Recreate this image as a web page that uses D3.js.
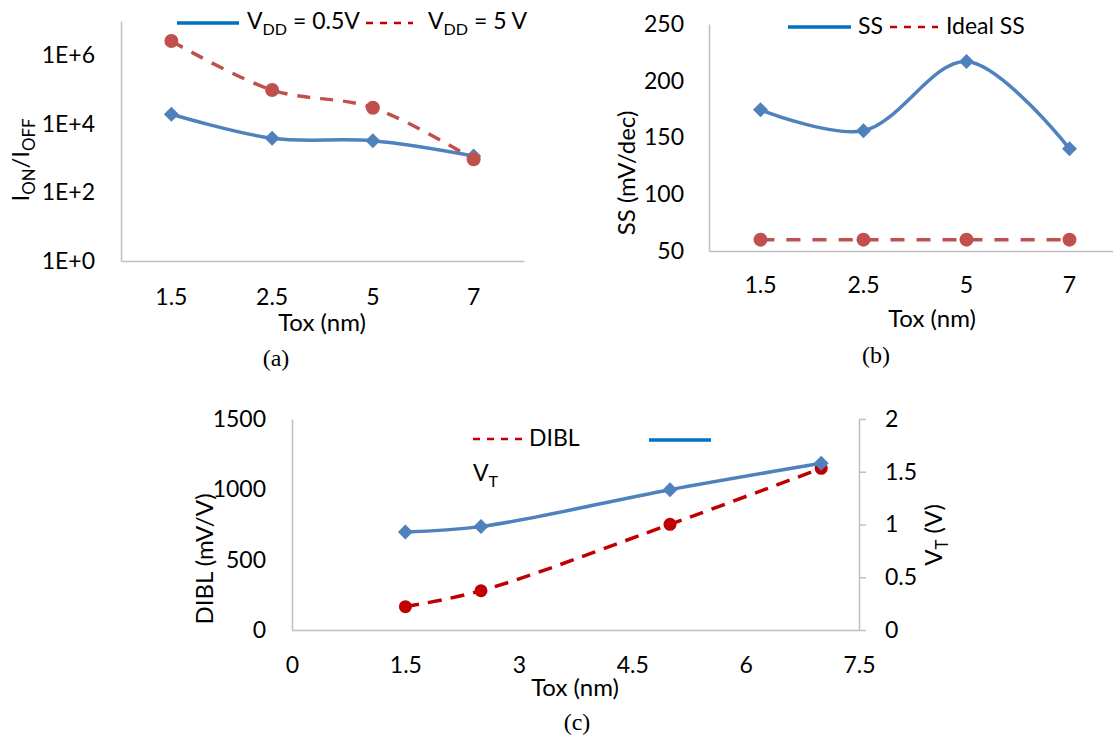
<!DOCTYPE html>
<html>
<head>
<meta charset="utf-8">
<script src="https://cdn.jsdelivr.net/npm/d3@7"></script>
<style>
  body { margin: 0; background: #fff; }
  text { font-family: Lato, "Open Sans", sans-serif; fill: #000; }
  .cap { font-family: "Liberation Serif", "Times New Roman", serif; }
</style>
</head>
<body>
<script>
// DATA
const toxCats = ["1.5", "2.5", "5", "7"];
const toxNum = [1.5, 2.5, 5, 7];

// (a) Ion/Ioff
const ratioVdd05 = [1.9e4, 3.8e3, 3.2e3, 1.15e3];
const ratioVdd5 = [2.6e6, 9.7e4, 2.95e4, 9.3e2];
const ratioTicks = [1, 1e2, 1e4, 1e6];
const ratioTickLabels = ["1E+0", "1E+2", "1E+4", "1E+6"];

// (b) subthreshold swing
const ssValues = [174.5, 156, 217, 140];
const idealSS = [60, 60, 60, 60];
const ssTicks = [50, 100, 150, 200, 250];

// (c) DIBL and VT
const diblValues = [166, 279, 751, 1149];
const vtValues = [0.93, 0.98, 1.33, 1.58];
const diblTicks = [0, 500, 1000, 1500];
const vtTicks = [0, 0.5, 1, 1.5, 2];
const toxTicksC = [0, 1.5, 3, 4.5, 6, 7.5];

// COLOURS
const blueData = "#4F81BD", redData = "#C0504D", redDark = "#C00000", blueLeg = "#0070C0";
const axisCol = "#BFBFBF";

const tickSize = 23, titleSize = 24, legSize = 23, capSize = 24;

const svg = d3.select("body").append("svg")
    .attr("width", 1113)
    .attr("height", 737);

const diamond = r => `M0,${-r}L${r},0L0,${r}L${-r},0Z`;

function styleAxis(g) {
    g.select(".domain").attr("stroke", axisCol).attr("stroke-width", 1.5);
    g.selectAll(".tick line").attr("stroke", axisCol).attr("stroke-width", 1.5);
    g.selectAll("text").attr("font-size", tickSize + "px").attr("fill", "#000");
    g.attr("font-family", null).attr("font-size", null);
}

// text with subscripts: parts = [[string, isSub], ...]
function subText(parent, x, y, parts, size) {
    const t = parent.append("text").attr("x", x).attr("y", y).attr("font-size", size + "px");
    let shifted = false;
    parts.forEach(p => {
        const ts = t.append("tspan").text(p[0]);
        if (p[1] && !shifted) { ts.attr("font-size", (size * 0.7) + "px").attr("dy", size * 0.25); shifted = true; }
        else if (p[1]) { ts.attr("font-size", (size * 0.7) + "px"); }
        else if (!p[1] && shifted) { ts.attr("dy", -size * 0.25); shifted = false; }
    });
    return t;
}

//////////////////// PANEL (a)
const xA = d3.scaleBand().domain(toxCats).range([121, 524]);
const yA = d3.scaleLog().domain([1, 1e7]).range([261, 21]);

svg.append("g")
    .attr("transform", "translate(0,261)")
    .call(d3.axisBottom(xA).tickSize(0).tickPadding(28))
    .call(styleAxis);

svg.append("g")
    .attr("transform", "translate(121,0)")
    .call(d3.axisLeft(yA).tickValues(ratioTicks).tickFormat((d, i) => ratioTickLabels[i]).tickSize(0).tickPadding(26))
    .call(styleAxis);

const cxA = i => xA(toxCats[i]) + xA.bandwidth() / 2;
const lineA = d3.line()
    .x((d, i) => cxA(i))
    .y(d => yA(d))
    .curve(d3.curveCatmullRom.alpha(0.5));

svg.append("path").datum(ratioVdd05)
    .attr("fill", "none").attr("stroke", blueData).attr("stroke-width", 3.5)
    .attr("d", lineA);
svg.selectAll("path.dA").data(ratioVdd05).enter().append("path")
    .attr("class", "dA")
    .attr("d", diamond(7.5))
    .attr("transform", (d, i) => `translate(${cxA(i)},${yA(d)})`)
    .attr("fill", blueData);

svg.append("path").datum(ratioVdd5)
    .attr("fill", "none").attr("stroke", redData).attr("stroke-width", 3.5)
    .attr("stroke-dasharray", "13,10")
    .attr("d", lineA);
svg.selectAll("circle.cA").data(ratioVdd5).enter().append("circle")
    .attr("class", "cA")
    .attr("cx", (d, i) => cxA(i)).attr("cy", d => yA(d)).attr("r", 7)
    .attr("fill", redData);

// legend (a)
svg.append("line").attr("x1", 177).attr("x2", 239).attr("y1", 23).attr("y2", 23)
    .attr("stroke", blueLeg).attr("stroke-width", 3.5);
subText(svg, 247, 29, [["V", false], ["DD", true], [" = 0.5V", false]], legSize);
svg.append("line").attr("x1", 366).attr("x2", 413).attr("y1", 23).attr("y2", 23)
    .attr("stroke", redDark).attr("stroke-width", 2.5).attr("stroke-dasharray", "7,7");
subText(svg, 428, 29, [["V", false], ["DD", true], [" = 5 V", false]], legSize);

// titles (a)
const tA = svg.append("g").attr("transform", "translate(29,160) rotate(-90)");
subText(tA, 0, 0, [["I", false], ["ON", true], ["/I", false], ["OFF", true]], titleSize).attr("text-anchor", "middle");
svg.append("text").attr("x", 322).attr("y", 331).attr("text-anchor", "middle").attr("font-size", titleSize + "px").text("Tox (nm)");
svg.append("text").attr("class", "cap").attr("x", 276).attr("y", 366).attr("text-anchor", "middle").attr("font-size", capSize + "px").text("(a)");

//////////////////// PANEL (b)
const xB = d3.scaleBand().domain(toxCats).range([709, 1121]);
const yB = d3.scaleLinear().domain([50, 250]).range([251, 24]);

svg.append("g")
    .attr("transform", "translate(0,251)")
    .call(d3.axisBottom(xB).tickSize(0).tickPadding(26))
    .call(styleAxis);

svg.append("g")
    .attr("transform", "translate(709,0)")
    .call(d3.axisLeft(yB).tickValues(ssTicks).tickFormat(d3.format("d")).tickSize(0).tickPadding(25))
    .call(styleAxis);

const cxB = i => xB(toxCats[i]) + xB.bandwidth() / 2;
const lineB = d3.line()
    .x((d, i) => cxB(i))
    .y(d => yB(d))
    .curve(d3.curveCatmullRom.alpha(0.5));

svg.append("path").datum(ssValues)
    .attr("fill", "none").attr("stroke", blueData).attr("stroke-width", 3.5)
    .attr("d", lineB);
svg.selectAll("path.dB").data(ssValues).enter().append("path")
    .attr("class", "dB")
    .attr("d", diamond(7.5))
    .attr("transform", (d, i) => `translate(${cxB(i)},${yB(d)})`)
    .attr("fill", blueData);

svg.append("path").datum(idealSS)
    .attr("fill", "none").attr("stroke", redData).attr("stroke-width", 3.5)
    .attr("stroke-dasharray", "14,12")
    .attr("d", lineB);
svg.selectAll("circle.cB").data(idealSS).enter().append("circle")
    .attr("class", "cB")
    .attr("cx", (d, i) => cxB(i)).attr("cy", d => yB(d)).attr("r", 7)
    .attr("fill", redData);

// legend (b)
svg.append("line").attr("x1", 788).attr("x2", 851).attr("y1", 27).attr("y2", 27)
    .attr("stroke", blueLeg).attr("stroke-width", 3.5);
svg.append("text").attr("x", 858).attr("y", 34).attr("font-size", legSize + "px").text("SS");
svg.append("line").attr("x1", 890).attr("x2", 938).attr("y1", 27).attr("y2", 27)
    .attr("stroke", redDark).attr("stroke-width", 2.5).attr("stroke-dasharray", "7,7");
svg.append("text").attr("x", 946).attr("y", 34).attr("font-size", legSize + "px").text("Ideal SS");

// titles (b)
svg.append("text").attr("transform", "translate(635,173) rotate(-90)")
    .attr("text-anchor", "middle").attr("font-size", titleSize + "px").text("SS (mV/dec)");
svg.append("text").attr("x", 932).attr("y", 327).attr("text-anchor", "middle").attr("font-size", titleSize + "px").text("Tox (nm)");
svg.append("text").attr("class", "cap").attr("x", 876).attr("y", 363).attr("text-anchor", "middle").attr("font-size", capSize + "px").text("(b)");

//////////////////// PANEL (c)
const xC = d3.scaleLinear().domain([0, 7.5]).range([292, 859]);
const yC = d3.scaleLinear().domain([0, 1500]).range([630, 419]);
const yC2 = d3.scaleLinear().domain([0, 2]).range([630, 419]);

svg.append("g")
    .attr("transform", "translate(0,630)")
    .call(d3.axisBottom(xC).tickValues(toxTicksC).tickFormat(d => String(d)).tickSize(0).tickPadding(27))
    .call(styleAxis);

svg.append("g")
    .attr("transform", "translate(292,0)")
    .call(d3.axisLeft(yC).tickValues(diblTicks).tickFormat(d3.format("d")).tickSize(0).tickPadding(26))
    .call(styleAxis);

svg.append("g")
    .attr("transform", "translate(859,0)")
    .call(d3.axisRight(yC2).tickValues(vtTicks).tickFormat(d => String(d)).tickSize(7).tickSizeOuter(0).tickPadding(19))
    .call(styleAxis);

const lineDibl = d3.line()
    .x((d, i) => xC(toxNum[i]))
    .y(d => yC(d))
    .curve(d3.curveCatmullRom.alpha(0.5));
const lineVt = d3.line()
    .x((d, i) => xC(toxNum[i]))
    .y(d => yC2(d))
    .curve(d3.curveCatmullRom.alpha(0.5));

svg.append("path").datum(diblValues)
    .attr("fill", "none").attr("stroke", redDark).attr("stroke-width", 3.5)
    .attr("stroke-dasharray", "14,9")
    .attr("d", lineDibl);
svg.selectAll("circle.cC").data(diblValues).enter().append("circle")
    .attr("class", "cC")
    .attr("cx", (d, i) => xC(toxNum[i])).attr("cy", d => yC(d)).attr("r", 6.5)
    .attr("fill", redDark);

svg.append("path").datum(vtValues)
    .attr("fill", "none").attr("stroke", blueData).attr("stroke-width", 3.5)
    .attr("d", lineVt);
svg.selectAll("path.dC").data(vtValues).enter().append("path")
    .attr("class", "dC")
    .attr("d", diamond(7.5))
    .attr("transform", (d, i) => `translate(${xC(toxNum[i])},${yC2(d)})`)
    .attr("fill", blueData);

// legend (c)
svg.append("line").attr("x1", 473).attr("x2", 522).attr("y1", 439).attr("y2", 439)
    .attr("stroke", redDark).attr("stroke-width", 2.5).attr("stroke-dasharray", "7,7");
svg.append("text").attr("x", 529).attr("y", 446).attr("font-size", legSize + "px").text("DIBL");
svg.append("line").attr("x1", 649).attr("x2", 711).attr("y1", 440).attr("y2", 440)
    .attr("stroke", blueLeg).attr("stroke-width", 3.5);
subText(svg, 473, 481, [["V", false], ["T", true]], legSize);

// titles (c)
svg.append("text").attr("transform", "translate(213,559) rotate(-90)")
    .attr("text-anchor", "middle").attr("font-size", titleSize + "px").text("DIBL (mV/V)");
const tC = svg.append("g").attr("transform", "translate(942,535) rotate(-90)");
subText(tC, 0, 0, [["V", false], ["T", true], [" (V)", false]], titleSize).attr("text-anchor", "middle");
svg.append("text").attr("x", 575).attr("y", 696).attr("text-anchor", "middle").attr("font-size", titleSize + "px").text("Tox (nm)");
svg.append("text").attr("class", "cap").attr("x", 577).attr("y", 730).attr("text-anchor", "middle").attr("font-size", capSize + "px").text("(c)");
</script>
</body>
</html>
